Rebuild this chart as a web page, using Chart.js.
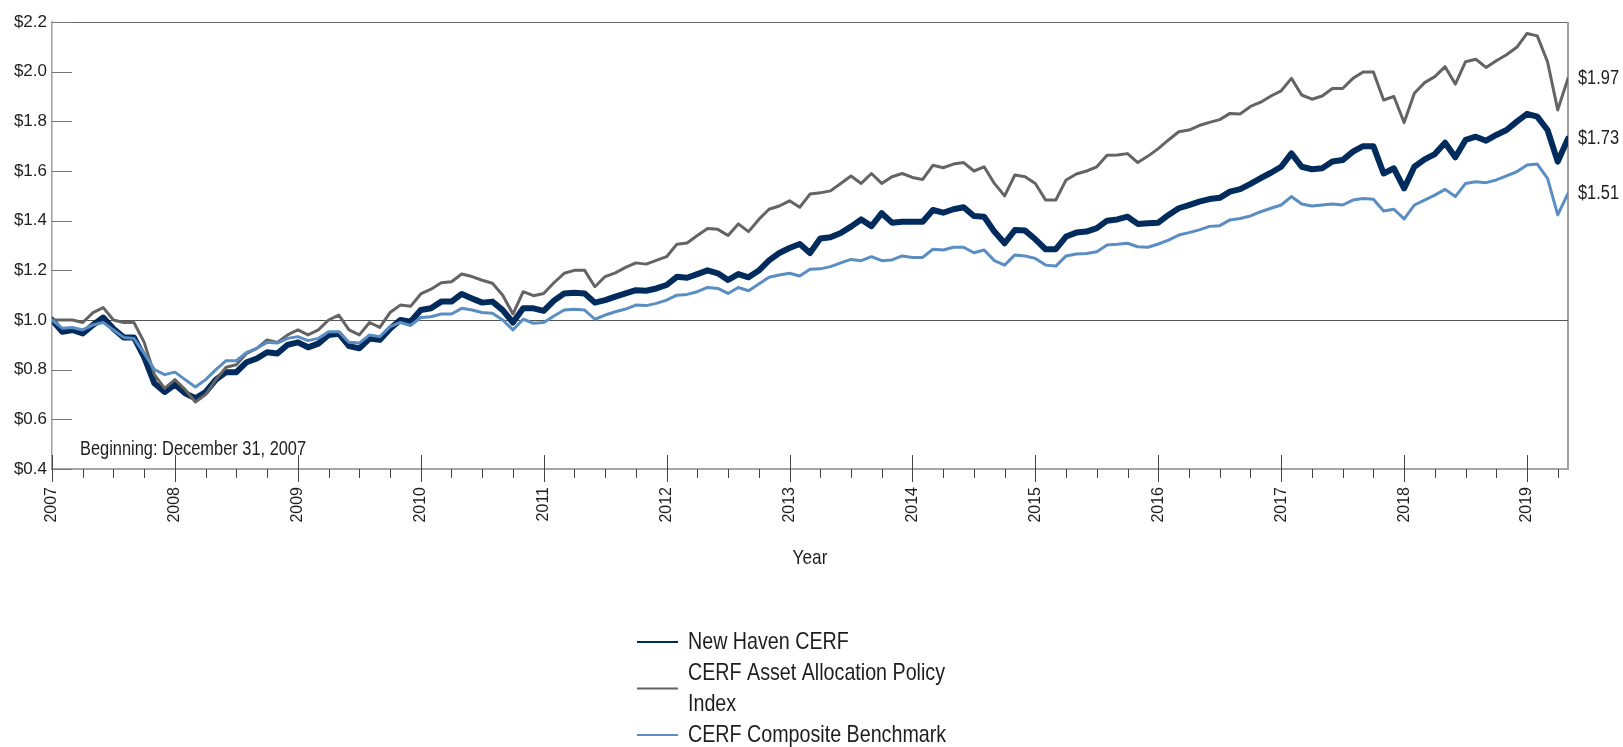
<!DOCTYPE html>
<html>
<head>
<meta charset="utf-8">
<script src="https://cdn.jsdelivr.net/npm/chart.js@4.4.1/dist/chart.umd.min.js"></script>
<style>
  html, body { margin: 0; padding: 0; background: #fff; }
  #wrap { width: 1623px; height: 747px; }
</style>
</head>
<body>
<div id="wrap"><canvas id="grafico" width="1623" height="747"></canvas></div>
<script>
// Datos mensuales (valor de $1 invertido), desde el inicio del grafico
const anioInicio = 2007;
const anios = [2007, 2008, 2009, 2010, 2011, 2012, 2013, 2014, 2015, 2016, 2017, 2018, 2019];
const yTicks = [0.4, 0.6, 0.8, 1.0, 1.2, 1.4, 1.6, 1.8, 2.0, 2.2];

const nombres = ["New Haven CERF", "CERF Asset Allocation Policy Index", "CERF Composite Benchmark"];
const colores = ["#002b5c", "#646464", "#5a8ec2"];

const newHaven = [
  1.00, 0.953, 0.96, 0.946, 0.98, 1.01, 0.965, 0.93, 0.93, 0.85, 0.745, 0.71,
  0.74, 0.705, 0.685, 0.71, 0.76, 0.79, 0.79, 0.83, 0.845, 0.87, 0.865, 0.90,
  0.91, 0.89, 0.905, 0.94, 0.945, 0.895, 0.886, 0.925, 0.92, 0.965, 1.00, 0.993,
  1.04, 1.047, 1.074, 1.074, 1.105, 1.087, 1.07, 1.074, 1.04, 0.99, 1.047, 1.047,
  1.037, 1.078, 1.107, 1.11, 1.107, 1.07, 1.08, 1.094, 1.107, 1.12, 1.118, 1.127,
  1.141, 1.174, 1.17, 1.185, 1.20, 1.188, 1.161, 1.185, 1.172, 1.199, 1.24, 1.27,
  1.29, 1.306, 1.27, 1.328, 1.333, 1.35, 1.376, 1.405, 1.378, 1.43, 1.392, 1.396,
  1.396, 1.396, 1.443, 1.432, 1.446, 1.454, 1.419, 1.416, 1.356, 1.309, 1.362, 1.36,
  1.325, 1.285, 1.285, 1.336, 1.352, 1.356, 1.37, 1.40, 1.405, 1.416, 1.387, 1.39,
  1.392, 1.423, 1.45, 1.463, 1.477, 1.487, 1.492, 1.517, 1.527, 1.548, 1.571, 1.593,
  1.617, 1.671, 1.617, 1.607, 1.611, 1.638, 1.644, 1.678, 1.70, 1.70, 1.59, 1.611,
  1.53, 1.617, 1.647, 1.668, 1.714, 1.655, 1.725, 1.738, 1.722, 1.745, 1.765, 1.799,
  1.83, 1.819, 1.765, 1.638, 1.73
];

const politica = [
  1.00, 1.00, 1.00, 0.99, 1.03, 1.05, 1.00, 0.99, 0.99, 0.91, 0.78, 0.725,
  0.76, 0.72, 0.67, 0.70, 0.76, 0.81, 0.82, 0.866, 0.886, 0.92, 0.91, 0.94,
  0.96, 0.94, 0.96, 1.00, 1.02, 0.96, 0.94, 0.99, 0.97, 1.03, 1.06, 1.055,
  1.105, 1.124, 1.15, 1.154, 1.185, 1.175, 1.16, 1.148, 1.10, 1.024, 1.114, 1.098,
  1.107, 1.15, 1.188, 1.20, 1.20, 1.134, 1.175, 1.19, 1.212, 1.23, 1.225, 1.24,
  1.255, 1.305, 1.31, 1.34, 1.368, 1.365, 1.34, 1.387, 1.356, 1.405, 1.446, 1.459,
  1.48, 1.454, 1.507, 1.512, 1.52, 1.55, 1.58, 1.55, 1.59, 1.55, 1.577, 1.59,
  1.574, 1.566, 1.623, 1.613, 1.628, 1.634, 1.60, 1.617, 1.55, 1.50, 1.584, 1.577,
  1.55, 1.483, 1.483, 1.564, 1.588, 1.60, 1.617, 1.663, 1.664, 1.67, 1.634, 1.66,
  1.69, 1.725, 1.758, 1.765, 1.783, 1.796, 1.807, 1.832, 1.83, 1.86, 1.877, 1.902,
  1.923, 1.973, 1.906, 1.889, 1.902, 1.932, 1.932, 1.973, 1.999, 1.999, 1.886, 1.90,
  1.795, 1.913, 1.956, 1.98, 2.02, 1.95, 2.04, 2.05, 2.017, 2.044, 2.068, 2.098,
  2.154, 2.144, 2.04, 1.846, 1.973
];

const compuesto = [
  1.00, 0.967, 0.97, 0.96, 0.98, 0.99, 0.96, 0.93, 0.926, 0.866, 0.80, 0.78,
  0.79, 0.76, 0.73, 0.76, 0.80, 0.836, 0.836, 0.87, 0.886, 0.91, 0.907, 0.926,
  0.933, 0.917, 0.926, 0.953, 0.953, 0.91, 0.907, 0.94, 0.933, 0.973, 0.99, 0.978,
  1.01, 1.013, 1.024, 1.024, 1.047, 1.04, 1.03, 1.027, 1.00, 0.96, 1.003, 0.987,
  0.99, 1.016, 1.04, 1.043, 1.04, 1.003, 1.02, 1.033, 1.044, 1.06, 1.058, 1.067,
  1.08, 1.10, 1.103, 1.114, 1.131, 1.127, 1.107, 1.131, 1.118, 1.145, 1.172, 1.181,
  1.188, 1.177, 1.204, 1.206, 1.215, 1.23, 1.244, 1.239, 1.255, 1.239, 1.242, 1.258,
  1.252, 1.252, 1.285, 1.282, 1.293, 1.293, 1.271, 1.282, 1.239, 1.221, 1.262, 1.258,
  1.248, 1.221, 1.217, 1.258, 1.266, 1.268, 1.275, 1.302, 1.305, 1.309, 1.295, 1.293,
  1.306, 1.322, 1.342, 1.352, 1.363, 1.377, 1.38, 1.403, 1.409, 1.419, 1.436, 1.45,
  1.463, 1.497, 1.467, 1.459, 1.463, 1.467, 1.463, 1.483, 1.489, 1.486, 1.439, 1.446,
  1.407, 1.463, 1.483, 1.503, 1.526, 1.497, 1.55, 1.557, 1.553, 1.564, 1.58, 1.597,
  1.624, 1.628, 1.57, 1.423, 1.51
];

const series = [newHaven, politica, compuesto];
const grosores = [6, 3, 3];
const ordenDibujo = [2, 1, 0]; // el celeste queda arriba

const fuente = '"Liberation Sans", Arial, sans-serif';
const angosto = 0.82; // simula Arial Narrow comprimiendo en horizontal
const colorTexto = "#1e1e1e";

// Convierte cada serie a puntos {x: año decimal, y: valor}
function aPuntos(valores) {
  return valores.map((v, i) => ({ x: anioInicio + i / 12, y: v }));
}

function linea(ctx, x1, y1, x2, y2) {
  ctx.beginPath();
  ctx.moveTo(x1, y1);
  ctx.lineTo(x2, y2);
  ctx.stroke();
}

// Texto comprimido horizontalmente (no hay fuente angosta instalada)
function textoAngosto(ctx, texto, x, y) {
  ctx.save();
  ctx.translate(x, y);
  ctx.scale(angosto, 1);
  ctx.fillText(texto, 0, 0);
  ctx.restore();
}

// Dibuja marcas de ejes, linea de $1.0, bordes, etiquetas finales y leyenda
const decoracion = {
  id: "decoracion",
  beforeDatasetsDraw(chart) {
    const { ctx, chartArea: a, scales: { x, y } } = chart;
    ctx.save();
    ctx.lineWidth = 1;

    // borde superior y derecho
    ctx.strokeStyle = "#6a6a6a";
    linea(ctx, a.left, a.top + 0.5, a.right, a.top + 0.5);
    ctx.strokeStyle = "#a0a0a0";
    ctx.lineWidth = 2;
    linea(ctx, a.right, a.top, a.right, a.bottom);

    // linea base en $1.0
    ctx.lineWidth = 1;
    ctx.strokeStyle = "#555";
    const y1 = Math.round(y.getPixelForValue(1.0)) + 0.5;
    linea(ctx, a.left, y1, a.right, y1);

    // marcas internas del eje Y
    ctx.strokeStyle = "#777";
    yTicks.forEach((v) => {
      const py = Math.round(y.getPixelForValue(v)) + 0.5;
      linea(ctx, a.left, py, a.left + 20, py);
    });

    // marcas del eje X: trimestrales y anuales
    ctx.strokeStyle = "#444";
    const fin = anioInicio + (newHaven.length - 1) / 12;
    for (let t = anioInicio; t <= fin + 1e-6; t += 0.25) {
      const px = Math.round(x.getPixelForValue(t)) + 0.5;
      if (Math.abs(t - Math.round(t)) < 1e-6) {
        linea(ctx, px, a.bottom - 14, px, a.bottom + 13);
      } else {
        linea(ctx, px, a.bottom, px, a.bottom + 9);
      }
    }
    ctx.restore();
  },
  afterDraw(chart) {
    const { ctx, chartArea: a, scales: { y } } = chart;
    ctx.save();
    ctx.fillStyle = colorTexto;

    // valores finales a la derecha
    ctx.font = "20px " + fuente;
    ctx.textAlign = "left";
    ctx.textBaseline = "middle";
    [politica, newHaven, compuesto].forEach((s) => {
      const ultimo = s[s.length - 1];
      textoAngosto(ctx, "$" + ultimo.toFixed(2), a.right + 10, y.getPixelForValue(ultimo));
    });

    // nota de inicio
    ctx.textBaseline = "alphabetic";
    textoAngosto(ctx, "Beginning: December 31, 2007", a.left + 28, a.bottom - 14);

    // titulo del eje X
    ctx.font = "21px " + fuente;
    ctx.textAlign = "center";
    ctx.textBaseline = "middle";
    textoAngosto(ctx, "Year", (a.left + a.right) / 2, a.bottom + 89);

    // leyenda
    ctx.font = "24px " + fuente;
    ctx.textAlign = "left";
    const lx = 637, tx = 688, anchoMax = 295, alto = 31;
    let yy = 642;
    nombres.forEach((nombre, i) => {
      const palabras = nombre.split(" ");
      const lineas = [];
      let actual = "";
      palabras.forEach((p) => {
        const prueba = actual ? actual + " " + p : p;
        if (ctx.measureText(prueba).width * angosto > anchoMax && actual) {
          lineas.push(actual);
          actual = p;
        } else {
          actual = prueba;
        }
      });
      lineas.push(actual);
      const centro = yy + (lineas.length - 1) * alto / 2;
      ctx.strokeStyle = colores[i];
      ctx.lineWidth = 2;
      linea(ctx, lx, centro, lx + 41, centro);
      lineas.forEach((l, k) => textoAngosto(ctx, l, tx, yy + k * alto));
      yy += lineas.length * alto;
    });
    ctx.restore();
  }
};

const ctx = document.getElementById("grafico");

new Chart(ctx, {
  type: "line",
  data: {
    datasets: series.map((s, i) => ({
      label: nombres[i],
      data: aPuntos(s),
      borderColor: colores[i],
      backgroundColor: colores[i],
      borderWidth: grosores[i],
      pointRadius: 0,
      tension: 0,
      borderJoinStyle: "round",
      borderCapStyle: "round",
      order: ordenDibujo[i],
    })),
  },
  options: {
    responsive: false,
    animation: false,
    devicePixelRatio: 1,
    layout: { padding: { top: 22, right: 55, left: 0, bottom: 0 } },
    plugins: { legend: { display: false }, tooltip: { enabled: false } },
    scales: {
      x: {
        type: "linear",
        min: anioInicio,
        max: anioInicio + (newHaven.length - 1) / 12,
        afterBuildTicks: (s) => { s.ticks = anios.map((v) => ({ value: v })); },
        afterFit: (s) => { s.height = 278; },
        ticks: {
          autoSkip: false,
          minRotation: 90,
          maxRotation: 90,
          padding: 18,
          color: colorTexto,
          font: { family: fuente, size: 16 },
          callback: (v) => String(v),
        },
        grid: { display: false, drawTicks: false },
        border: { display: true, color: "#a6a6a6", width: 2 },
      },
      y: {
        min: 0.4,
        max: 2.2,
        afterBuildTicks: (s) => { s.ticks = yTicks.map((v) => ({ value: v })); },
        afterFit: (s) => { s.width = 52; },
        ticks: {
          padding: 5,
          color: colorTexto,
          font: { family: fuente, size: 17 },
          callback: (v) => "$" + v.toFixed(1),
        },
        grid: { display: false, drawTicks: false },
        border: { display: true, color: "#a0a0a0", width: 1.5 },
      },
    },
  },
  plugins: [decoracion],
});
</script>
</body>
</html>
